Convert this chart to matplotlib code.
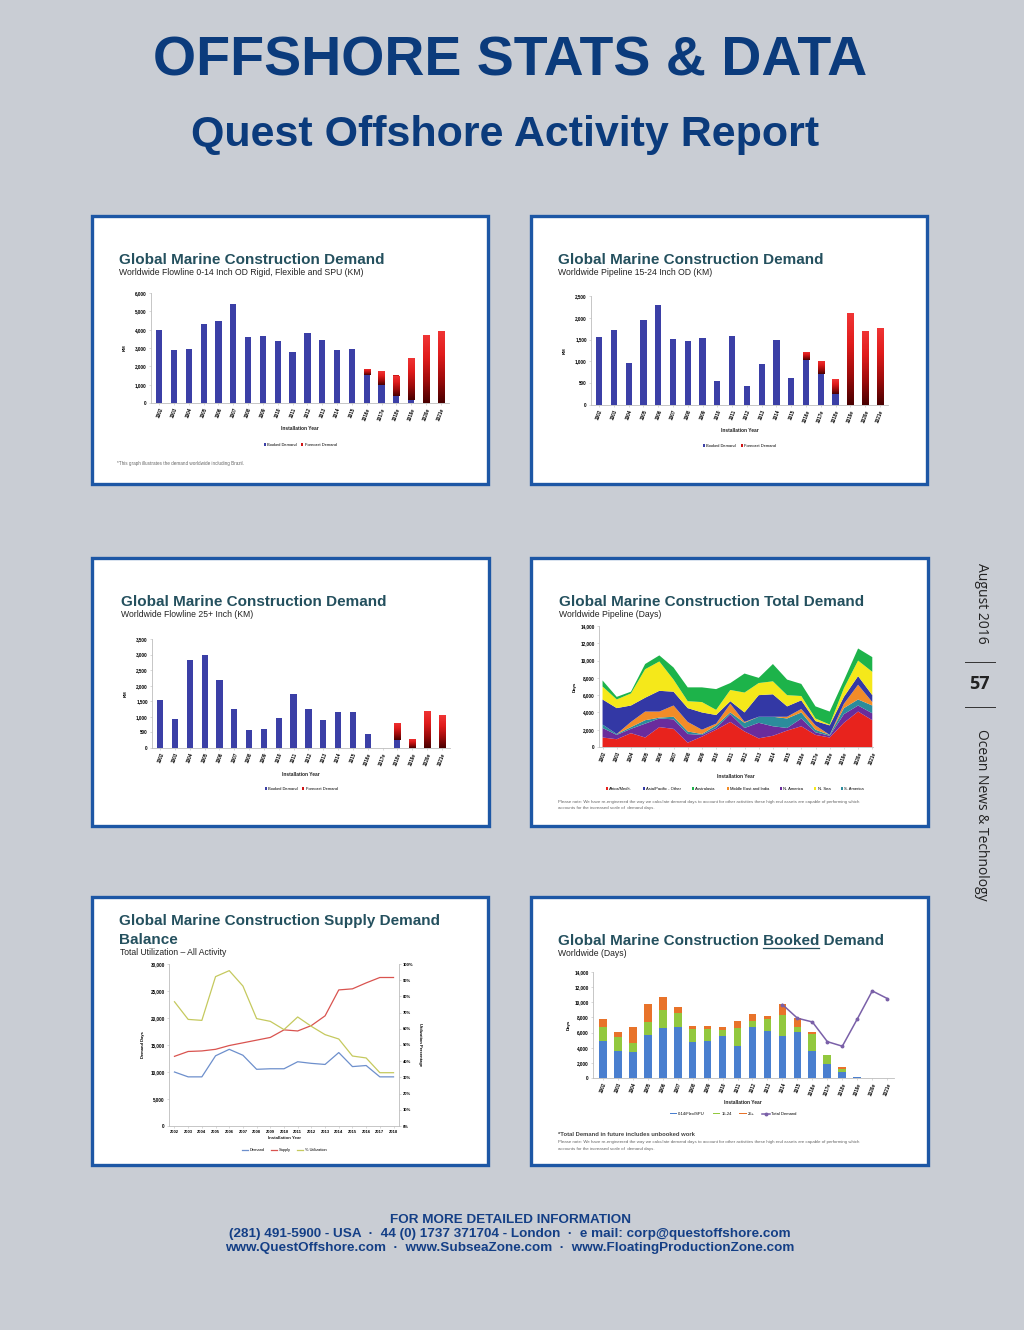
import numpy as np
import matplotlib
matplotlib.use('Agg')
import matplotlib.pyplot as plt
from matplotlib.colors import LinearSegmentedColormap
from matplotlib.patches import Rectangle
from matplotlib.ticker import FuncFormatter, MultipleLocator

# ---------------- data ----------------
years_bar = ['2002', '2003', '2004', '2005', '2006', '2007', '2008', '2009', '2010', '2011',
             '2012', '2013', '2014', '2015', '2016e', '2017e', '2018e', '2019e', '2020e', '2021e']

# flowline 0-14 inch (km)
p1_booked = [4000, 2900, 2920, 4330, 4500, 5400, 3600, 3650, 3380, 2800,
             3820, 3420, 2880, 2970, 1530, 980, 400, 150, 0, 0]
p1_forecast = [0, 0, 0, 0, 0, 0, 0, 0, 0, 0,
               0, 0, 0, 0, 350, 760, 1100, 2320, 3700, 3950]

# pipeline 15-24 inch (km)
p2_booked = [1560, 1730, 970, 1940, 2290, 1510, 1470, 1540, 560, 1580,
             430, 940, 1500, 610, 1030, 700, 260, 0, 0, 0]
p2_forecast = [0, 0, 0, 0, 0, 0, 0, 0, 0, 0,
               0, 0, 0, 0, 190, 320, 340, 2110, 1700, 1770]

# flowline 25+ inch (km)
p3_booked = [1540, 920, 2820, 3000, 2180, 1250, 590, 620, 960, 1730,
             1260, 890, 1150, 1150, 440, 0, 250, 0, 0, 0]
p3_forecast = [0, 0, 0, 0, 0, 0, 0, 0, 0, 0,
               0, 0, 0, 0, 0, 15, 550, 290, 1200, 1050]

# total demand by region (days), stacking order bottom -> top
area_africa = [1100, 900, 1600, 1100, 2300, 2100, 500, 1200, 2000, 2900,
               1800, 1000, 1300, 1900, 2400, 1400, 1100, 2800, 4100, 3100]
area_namerica = [1100, 500, 500, 1600, 1000, 1100, 1000, 200, 200, 900,
                 400, 1800, 1100, 300, 900, 300, 200, 1000, 700, 800]
area_samerica = [400, 100, 200, 400, 100, 300, 300, 100, 300, 200,
                 600, 700, 1100, 1100, 700, 300, 100, 700, 700, 900]
area_mideast = [0, 0, 600, 1000, 700, 1300, 1100, 500, 200, 1000,
                100, 0, 0, 200, 400, 500, 0, 500, 1700, 400]
area_asiapac = [2900, 3000, 1900, 1600, 2400, 1600, 1600, 2000, 1000, 300,
                1100, 2500, 2600, 1200, 1000, 500, 1100, 800, 1000, 800]
area_nsea = [1500, 1000, 1400, 3300, 3400, 1400, 800, 1200, 600, 1300,
             2300, 1400, 1500, 1300, 500, 300, 100, 1000, 1800, 2700]
area_australasia = [700, 300, 200, 600, 700, 1400, 1600, 1700, 2400, 800,
                    2200, 600, 2000, 1800, 1400, 1400, 1500, 900, 1400, 1700]
region_names = ['Africa/Medit.', 'Asia/Pacific - Other', 'Australasia', 'Middle East and India',
                'N. America', 'N. Sea', 'S. America']

# supply / demand balance
years_line = ['2002', '2003', '2004', '2005', '2006', '2007', '2008', '2009', '2010',
              '2011', '2012', '2013', '2014', '2015', '2016', '2017', '2018']
sd_demand = [10000, 9100, 9100, 13000, 14200, 13100, 10500, 10600, 10600,
             11900, 11600, 11400, 13600, 11000, 11200, 9100, 9100]
sd_supply = [12900, 13800, 13900, 14200, 14900, 15400, 15900, 16400, 17800,
             17600, 18600, 20400, 25200, 25400, 26500, 27500, 27500]
sd_util = [76.7, 65.8, 65.2, 92.2, 95.9, 86.4, 66.3, 64.6, 59.5,
           67.3, 61.5, 56.4, 53.7, 43.2, 42.0, 32.9, 32.9]

# booked demand (days)
bk_small = [4900, 3570, 3440, 5640, 6650, 6780, 4710, 4890, 5550, 4230,
            6740, 6260, 5590, 6040, 3570, 1890, 750, 130, 0, 0]
bk_mid = [1840, 1890, 1140, 1760, 2290, 1770, 1720, 1540, 750, 2420,
          750, 1540, 2740, 740, 2200, 1110, 400, 0, 0, 0]
bk_large = [1100, 660, 2120, 2380, 1810, 830, 490, 490, 440, 880,
            1010, 350, 1490, 1150, 350, 0, 350, 0, 0, 0]
bk_total = [np.nan] * 12 + [9700, 7900, 7400, 4800, 4200, 7800, 11500, 10500]

# ---------------- styling ----------------
W, H = 1024, 1330
BG = '#c9cdd4'
NAVY = '#0b3b7c'
BORDER = '#1d57a5'
TITLE_C = '#24505e'
SANS = ['Liberation Sans', 'DejaVu Sans']
plt.rcParams['font.family'] = SANS

BLUE_BAR = '#3b3fa6'
RED_BAR = '#d01515'
red_cmap = LinearSegmentedColormap.from_list('fc', ['#4a0000', '#a00c0c', '#e01c1c', '#f03535'])
thousands = FuncFormatter(lambda v, p: f'{v:,.0f}')

fig = plt.figure(figsize=(W / 100, H / 100), dpi=100, facecolor=BG)
bg = fig.add_axes([0, 0, 1, 1], zorder=-10)
bg.set_xlim(0, W)
bg.set_ylim(H, 0)
bg.axis('off')


def px_axes(x0, y0, x1, y1):
    return fig.add_axes([x0 / W, 1 - y1 / H, (x1 - x0) / W, (y1 - y0) / H])


def panel_box(x0, y0, x1, y1):
    bg.add_patch(Rectangle((x0, y0), x1 - x0, y1 - y0, facecolor='white',
                           edgecolor=BORDER, linewidth=2.4))


def panel_title(x, y, title, subtitle, sub_dy=11):
    bg.text(x, y, title, fontsize=11, fontweight='bold', color=TITLE_C, va='baseline')
    bg.text(x, y + sub_dy, subtitle, fontsize=6.2, color='#222222', va='baseline')


def small_text(x, y, s, size=3.3, weight='normal', color='#666666', ha='left'):
    bg.text(x, y, s, fontsize=size, fontweight=weight, color=color, ha=ha, va='center')


def base_axes(ax):
    ax.set_facecolor('none')
    for side in ['top', 'right']:
        ax.spines[side].set_visible(False)
    for side in ['left', 'bottom']:
        ax.spines[side].set_color('#bdbdbd')
        ax.spines[side].set_linewidth(0.6)
    ax.tick_params(length=1.5, width=0.4, color='#bdbdbd', labelsize=3.3, pad=1.5)
    for lab in ax.get_yticklabels():
        lab.set_fontweight('bold')


def year_ticks(ax, labels):
    ax.set_xticks(range(len(labels)))
    ax.set_xticklabels(labels, rotation=70, ha='right', va='top', rotation_mode='anchor',
                       fontsize=3.3, fontweight='bold')


def bar_panel(rect, booked, forecast, ymax, ystep, legend_y, width=0.42):
    ax = px_axes(*rect)
    x = np.arange(len(years_bar))
    b1 = ax.bar(x, booked, width, color=BLUE_BAR, zorder=2)
    b2 = ax.bar(x, forecast, width, bottom=booked, color=RED_BAR, zorder=2)
    grad = np.linspace(0, 1, 64).reshape(-1, 1)
    for patch in b2:
        h = patch.get_height()
        if h <= 0:
            continue
        x0, y0, w = patch.get_x(), patch.get_y(), patch.get_width()
        im = ax.imshow(grad, extent=[x0, x0 + w, y0, y0 + h], origin='lower',
                       aspect='auto', cmap=red_cmap, zorder=3)
        im.set_clip_path(patch)
    ax.set_xlim(-0.55, len(years_bar) - 0.45)
    ax.set_ylim(0, ymax)
    ax.yaxis.set_major_locator(MultipleLocator(ystep))
    ax.yaxis.set_major_formatter(thousands)
    base_axes(ax)
    year_ticks(ax, years_bar)
    ax.set_ylabel('KM', fontsize=3.2, fontweight='bold', labelpad=6)
    cx = (rect[0] + rect[2]) / 2
    bg.text(cx, rect[3] + 26, 'Installation Year', fontsize=3.5, fontweight='bold',
            ha='center', va='center', color='#222222')
    ax.legend([b1, b2], ['Booked Demand', 'Forecast Demand'], loc='center',
              bbox_to_anchor=(cx / W, 1 - legend_y / H), bbox_transform=fig.transFigure,
              ncol=2, frameon=False, fontsize=2.9, handlelength=0.5, handleheight=0.5,
              handletextpad=0.3, columnspacing=1.2)
    return ax


# ---------------- header ----------------
bg.text(510, 76, 'OFFSHORE STATS & DATA', ha='center', va='baseline', fontsize=40,
        fontweight='bold', color=NAVY)
bg.text(505, 146, 'Quest Offshore Activity Report', ha='center', va='baseline', fontsize=31,
        fontweight='bold', color=NAVY)

# ---------------- panel boxes ----------------
panel_box(92, 216, 488, 484)
panel_box(531, 216, 927, 484)
panel_box(92, 558, 489, 826)
panel_box(531, 558, 928, 826)
panel_box(92, 897, 488, 1165)
panel_box(531, 897, 928, 1165)

# ---------------- panel 1 ----------------
panel_title(119, 264, 'Global Marine Construction Demand',
            'Worldwide Flowline 0-14 Inch OD Rigid, Flexible and SPU (KM)')
bar_panel((151, 293, 449, 403), p1_booked, p1_forecast, 6000, 1000, 445)
small_text(117, 464, '*This graph illustrates the demand worldwide including Brazil.')

# ---------------- panel 2 ----------------
panel_title(558, 264, 'Global Marine Construction Demand', 'Worldwide Pipeline 15-24 Inch OD (KM)')
bar_panel((591, 296, 888, 405), p2_booked, p2_forecast, 2500, 500, 446)

# ---------------- panel 3 ----------------
panel_title(121, 606, 'Global Marine Construction Demand', 'Worldwide Flowline 25+ Inch (KM)')
bar_panel((152, 639, 450, 748), p3_booked, p3_forecast, 3500, 500, 789)

# ---------------- panel 4: stacked area ----------------
panel_title(559, 606, 'Global Marine Construction Total Demand', 'Worldwide Pipeline (Days)')
ax4 = px_axes(599, 626, 873, 747)
xa = np.arange(len(years_bar))
stack = [area_africa, area_namerica, area_samerica, area_mideast, area_asiapac, area_nsea, area_australasia]
stack_colors = ['#e8231d', '#6a2c9c', '#2b8c9c', '#f28c28', '#3338a5', '#f5e81a', '#1db34a']
polys = ax4.stackplot(xa, *stack, colors=stack_colors, linewidth=0)
ax4.set_xlim(-0.25, len(years_bar) - 0.95)
ax4.set_ylim(0, 14000)
ax4.yaxis.set_major_locator(MultipleLocator(2000))
ax4.yaxis.set_major_formatter(thousands)
base_axes(ax4)
year_ticks(ax4, years_bar)
ax4.set_ylabel('Days', fontsize=3.2, fontweight='bold', labelpad=3)
bg.text(736, 776, 'Installation Year', fontsize=3.5, fontweight='bold', ha='center', va='center',
        color='#222222')
legend_order = [0, 4, 6, 3, 1, 5, 2]
ax4.legend([polys[i] for i in legend_order], region_names, loc='center',
           bbox_to_anchor=(735 / W, 1 - 789 / H), bbox_transform=fig.transFigure,
           ncol=7, frameon=False, fontsize=3.0, handlelength=0.5, handleheight=0.5,
           handletextpad=0.3, columnspacing=2.6)
small_text(558, 802, 'Please note: We have re-engineered the way we calculate demand days to account for '
           'other activities these high end assets are capable of performing which', size=3.2)
small_text(558, 808, 'accounts for the increased scale of  demand days.', size=3.2)

# ---------------- panel 5: supply/demand lines ----------------
bg.text(119, 925, 'Global Marine Construction Supply Demand', fontsize=11, fontweight='bold',
        color=TITLE_C, va='baseline')
bg.text(119, 944, 'Balance', fontsize=11, fontweight='bold', color=TITLE_C, va='baseline')
bg.text(120, 955, 'Total Utilization \u2013 All Activity', fontsize=6.2, color='#222222', va='baseline')
ax5 = px_axes(169, 964, 399, 1126)
xl = np.arange(len(years_line))
l1, = ax5.plot(xl, sd_demand, color='#6d8fcc', lw=0.9)
l2, = ax5.plot(xl, sd_supply, color='#d9534f', lw=0.9)
ax5.set_xlim(-0.4, len(years_line) - 0.6)
ax5.set_ylim(0, 30000)
ax5.yaxis.set_major_locator(MultipleLocator(5000))
ax5.yaxis.set_major_formatter(thousands)
ax5r = ax5.twinx()
l3, = ax5r.plot(xl, sd_util, color='#c5c95e', lw=0.9)
ax5r.set_ylim(0, 100)
ax5r.yaxis.set_major_locator(MultipleLocator(10))
ax5r.yaxis.set_major_formatter(FuncFormatter(lambda v, p: f'{v:.0f}%'))
base_axes(ax5)
ax5r.set_facecolor('none')
for side in ['top', 'left', 'bottom']:
    ax5r.spines[side].set_visible(False)
ax5r.spines['right'].set_color('#bdbdbd')
ax5r.spines['right'].set_linewidth(0.6)
ax5r.tick_params(length=1.5, width=0.4, color='#bdbdbd', labelsize=3.0, pad=1.5)
for lab in ax5r.get_yticklabels():
    lab.set_fontweight('bold')
ax5.set_xticks(xl)
ax5.set_xticklabels(years_line, fontsize=3.0, fontweight='bold')
ax5.set_ylabel('Demand Days', fontsize=3.0, fontweight='bold', labelpad=4)
ax5r.set_ylabel('Utilization Percentage', fontsize=3.0, fontweight='bold', rotation=270, labelpad=6)
bg.text(284, 1138, 'Installation Year', fontsize=3.2, fontweight='bold', ha='center', va='center',
        color='#222222')
ax5.legend([l1, l2, l3], ['Demand', 'Supply', '% Utilization'], loc='center',
           bbox_to_anchor=(284 / W, 1 - 1150 / H), bbox_transform=fig.transFigure,
           ncol=3, frameon=False, fontsize=2.9, handlelength=1.6, handletextpad=0.3,
           columnspacing=1.6)

# ---------------- panel 6: booked demand ----------------
title_kw = dict(fontsize=11, fontweight='bold', color=TITLE_C, va='baseline')
bg.text(558, 945, 'Global Marine Construction Booked Demand', **title_kw)
bg.text(558, 956, 'Worldwide (Days)', fontsize=6.2, color='#222222', va='baseline')
renderer = fig.canvas.get_renderer()


def text_width(s):
    t = bg.text(0, 0, s, **title_kw)
    w = t.get_window_extent(renderer).width
    t.remove()
    return w


ul_x0 = 558 + text_width('Global Marine Construction ')
ul_x1 = ul_x0 + text_width('Booked')
bg.plot([ul_x0, ul_x1], [948, 948], color=TITLE_C, lw=0.9)

ax6 = px_axes(593, 972, 894, 1078)
xb = np.arange(len(years_bar))
bottom_mid = np.array(bk_small)
bottom_large = bottom_mid + np.array(bk_mid)
c1 = ax6.bar(xb, bk_small, 0.52, color='#4a7fcf', zorder=2)
c2 = ax6.bar(xb, bk_mid, 0.52, bottom=bottom_mid, color='#92c83e', zorder=2)
c3 = ax6.bar(xb, bk_large, 0.52, bottom=bottom_large, color='#e8732a', zorder=2)
ln, = ax6.plot(xb, bk_total, color='#7a60a8', lw=1.1, marker='o', markersize=1.8, zorder=4)
ax6.set_xlim(-0.65, len(years_bar) - 0.55)
ax6.set_ylim(0, 14000)
ax6.yaxis.set_major_locator(MultipleLocator(2000))
ax6.yaxis.set_major_formatter(thousands)
base_axes(ax6)
year_ticks(ax6, years_bar)
ax6.set_ylabel('Days', fontsize=3.2, fontweight='bold', labelpad=3)
bg.text(743, 1103, 'Installation Year', fontsize=3.5, fontweight='bold', ha='center', va='center',
        color='#222222')
ax6.legend([c1, c2, c3, ln], ['0-14/Flex/SPU', '15-24', '25+', 'Total Demand'], loc='center',
           bbox_to_anchor=(733 / W, 1 - 1114 / H), bbox_transform=fig.transFigure,
           ncol=4, frameon=False, fontsize=3.0, handlelength=1.8, handleheight=0.25,
           handletextpad=0.3, columnspacing=1.8)
small_text(558, 1135, '*Total Demand in future includes unbooked work', size=4.2, weight='bold',
           color='#444444')
small_text(558, 1142, 'Please note: We have re-engineered the way we calculate demand days to account for '
           'other activities these high end assets are capable of performing which', size=3.2)
small_text(558, 1149, 'accounts for the increased scale of  demand days.', size=3.2)

# ---------------- side strip ----------------
bg.text(982, 603, 'August 2016', rotation=270, ha='center', va='center', fontsize=10,
        color='#222222', family=['Open Sans', 'DejaVu Sans'])
bg.plot([965, 995], [662, 662], color='#333333', lw=0.7)
bg.text(979, 684, '57', ha='center', va='center', fontsize=13, fontweight='bold',
        color='#222222', family=['Open Sans', 'DejaVu Sans'])
bg.plot([965, 995], [707, 707], color='#333333', lw=0.7)
bg.text(982, 815, 'Ocean News & Technology', rotation=270, ha='center', va='center', fontsize=10,
        color='#222222', family=['Open Sans', 'DejaVu Sans'])

# ---------------- footer ----------------
foot_kw = dict(ha='center', va='center', fontsize=9.7, fontweight='bold', color='#143f86')
bg.text(510, 1220, 'FOR MORE DETAILED INFORMATION', **foot_kw)
bg.text(510, 1234, '(281) 491-5900 - USA  \u00b7  44 (0) 1737 371704 - London  \u00b7  '
        'e mail: corp@questoffshore.com', **foot_kw)
bg.text(510, 1248, 'www.QuestOffshore.com  \u00b7  www.SubseaZone.com  \u00b7  '
        'www.FloatingProductionZone.com', **foot_kw)

fig.savefig('out.png', dpi=100, facecolor=BG)
